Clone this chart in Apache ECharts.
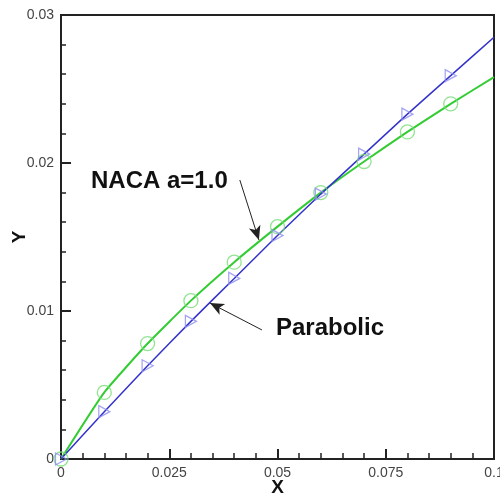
<!DOCTYPE html>
<html>
<head>
<meta charset="utf-8">
<script src="https://cdn.jsdelivr.net/npm/echarts@6/dist/echarts.min.js"></script>
<style>html,body{margin:0;padding:0;background:#fff;}#c{width:500px;height:498px;}</style>
</head>
<body>
<div id="c"></div>
<script>
var curveX = [0, 0.01, 0.02, 0.03, 0.04, 0.05, 0.06, 0.07, 0.08, 0.09, 0.1];
var nacaY = [0, 0.0045, 0.0078, 0.0107, 0.0133, 0.0157, 0.0180, 0.0201, 0.0221, 0.0240, 0.0258];
var paraY = [0, 0.0032, 0.0063, 0.0093, 0.0122, 0.0151, 0.0179, 0.0206, 0.0233, 0.0259, 0.0285];
var markerIdx = [0, 1, 2, 3, 4, 5, 6, 7, 8, 9];
var xTicks = ['0', '0.025', '0.05', '0.075', '0.1'];
var yTicks = ['0', '0.01', '0.02', '0.03'];
var nacaLabel = 'NACA a=1.0';
var paraLabel = 'Parabolic';

function pairs(xs, ys) { return xs.map(function (x, i) { return [x, ys[i]]; }); }
function markers(ys) { return markerIdx.map(function (i) { return [curveX[i], ys[i]]; }); }

var chart = echarts.init(document.getElementById('c'), null, { renderer: 'canvas' });
var axisText = { color: '#444', fontSize: 14, fontFamily: 'Liberation Sans, Arial, sans-serif' };
chart.setOption({
  animation: false,
  backgroundColor: '#fff',
  grid: { left: 61, right: 6, top: 15, bottom: 39, containLabel: false, outerBoundsMode: 'none', show: true, borderColor: '#222', borderWidth: 2, backgroundColor: 'transparent' },
  xAxis: {
    type: 'value', min: 0, max: 0.1, interval: 0.025,
    name: 'X', nameLocation: 'middle', nameGap: 19, nameMoveOverlap: false,
    nameTextStyle: { fontSize: 19, fontWeight: 'bold', color: '#111', fontFamily: 'Liberation Sans, Arial, sans-serif' },
    axisLine: { onZero: false, lineStyle: { color: '#222', width: 2 } },
    axisTick: { inside: true, length: 10, lineStyle: { color: '#222', width: 2 } },
    minorTick: { show: true, splitNumber: 5, length: 6, lineStyle: { color: '#222', width: 1.5 } },
    splitLine: { show: false },
    axisLabel: Object.assign({ margin: 7, formatter: function (v) { var i = Math.round(v / 0.025); return xTicks[i]; } }, axisText)
  },
  yAxis: {
    type: 'value', min: 0, max: 0.03, interval: 0.01,
    name: 'Y', nameLocation: 'middle', nameGap: 32, nameMoveOverlap: false,
    nameTextStyle: { fontSize: 19, fontWeight: 'bold', color: '#111', fontFamily: 'Liberation Sans, Arial, sans-serif' },
    axisLine: { onZero: false, lineStyle: { color: '#222', width: 2 } },
    axisTick: { inside: true, length: 10, lineStyle: { color: '#222', width: 2 } },
    minorTick: { show: true, splitNumber: 5, length: 5, lineStyle: { color: '#222', width: 1.5 } },
    splitLine: { show: false },
    axisLabel: Object.assign({ margin: 7, formatter: function (v) { var i = Math.round(v / 0.01); return yTicks[i]; } }, axisText)
  },
  series: [
    {
      type: 'line', name: 'NACA', data: pairs(curveX, nacaY), smooth: 0.15,
      showSymbol: false, lineStyle: { color: '#33cc33', width: 2 }, z: 3
    },
    {
      type: 'line', name: 'Parabolic', data: pairs(curveX, paraY), smooth: 0.15,
      showSymbol: false, lineStyle: { color: '#3333cc', width: 1.5 }, z: 3,
      markLine: {
        silent: true, symbol: ['none', 'arrow'], symbolSize: [9, 14],
        lineStyle: { color: '#222', width: 1, type: 'solid' }, label: { show: false },
        data: [
          [{ coord: [0.0413, 0.01885] }, { coord: [0.0457, 0.0148] }],
          [{ coord: [0.0464, 0.00872] }, { coord: [0.0344, 0.01054] }]
        ]
      }
    },
    {
      type: 'scatter', data: markers(nacaY), symbol: 'circle', symbolSize: 14, clip: false,
      itemStyle: { color: 'transparent', borderColor: '#77dd77', borderWidth: 1.3 }, z: 4
    },
    {
      type: 'scatter', data: markers(paraY), symbol: 'path://M0,0 L10,5 L0,10 Z', symbolSize: [11, 12], clip: false,
      itemStyle: { color: 'transparent', borderColor: '#8c8cf0', borderWidth: 1.3 }, z: 4
    }
  ],
  graphic: [
    { type: 'text', left: 91, top: 169, style: { text: nacaLabel, font: 'bold 24px "Liberation Sans", Arial, sans-serif', fill: '#111' } },
    { type: 'text', left: 276, top: 316, style: { text: paraLabel, font: 'bold 24px "Liberation Sans", Arial, sans-serif', fill: '#111' } }
  ]
});
</script>
</body>
</html>
